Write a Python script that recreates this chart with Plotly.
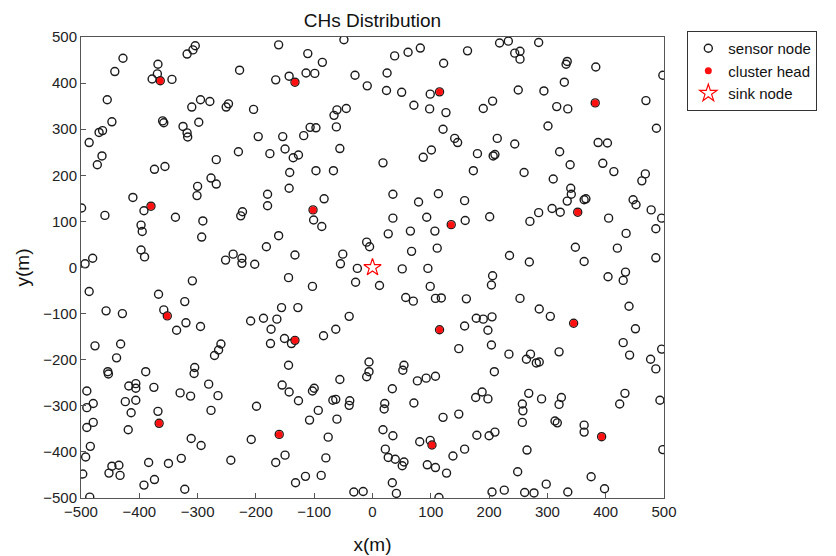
import plotly.graph_objects as go

# Sensor nodes (ordinary)
sensor_x = [-304,-308,-318,-428,-442,-368,-369,-378,-344,-455,-295,-279,-310,-360,-358,-447,-298,-325,-318,-317,-463,-469,-486,-464,-472,-374,-356,-268,-277,-268,
            -49,-161,-111,-86,-228,-143,-166,-114,-99,-30,-247,-251,-204,-61,-66,-45,-107,-97,-62,-118,-196,-154,-150,-230,-176,-136,-127,-56,-142,-97,-67,
            218,233,82,61,38,163,122,25,-9,24,50,99,71,98,126,206,190,121,141,146,214,101,87,180,207,210,18,173,
            285,244,253,253,334,332,383,498,329,250,294,469,316,335,301,487,244,387,403,321,339,395,414,260,310,468,462,
            -300,-301,-411,-392,-499,-459,-338,-291,-397,-395,-293,-397,-391,-480,-493,-309,-486,-367,-322,-457,-429,-358,-320,-295,-336,
            -143,-180,-180,-223,-226,-83,-101,-87,-161,-182,-252,-239,-224,-224,-202,-133,-51,-55,-26,-29,-144,-103,-156,-128,-209,-187,-164,-174,-40,-63,-84,-151,
            35,79,113,158,35,93,159,201,27,65,107,-10,-5,67,111,51,95,235,12,206,204,99,57,70,108,118,161,178,190,205,158,198,
            340,341,334,363,366,447,452,308,322,285,270,405,478,496,486,435,348,420,269,363,486,404,434,430,253,286,305,440,451,
            -476,-432,-439,-454,-453,-389,-260,-264,-271,-418,-406,-406,-375,-305,-306,-281,-330,-312,-265,-490,-479,-490,-424,-406,-414,-368,-277,-479,-490,-419,-484,-311,-294,-492,-328,-447,-435,-452,-433,-384,-350,-497,-392,-374,-322,-485,
            -175,-139,-144,-155,-143,-127,-103,-100,-56,-68,-63,-39,-40,-199,-93,-108,-61,-208,-76,-243,-150,-166,-80,-115,-132,-88,-32,-16,
            -6,-6,-10,148,204,234,54,52,209,77,92,108,34,188,177,198,21,20,71,148,121,18,35,179,200,210,81,99,158,138,22,27,39,54,51,94,108,127,34,41,114,205,226,
            430,320,271,264,281,286,441,477,486,496,268,290,257,258,257,324,320,313,317,363,363,433,424,493,265,498,249,298,375,261,277,335,398]
sensor_y = [481,472,463,454,425,441,420,409,408,364,364,360,348,318,314,316,315,306,292,283,297,293,271,242,223,213,219,234,194,181,
            494,483,464,445,428,415,407,422,421,417,355,348,343,342,330,345,304,303,305,286,284,284,257,251,247,238,244,258,206,210,210,
            487,491,476,467,459,470,443,422,394,384,380,376,352,344,336,361,345,300,280,271,280,255,239,247,242,245,227,210,
            488,465,469,452,447,441,435,417,402,385,383,362,349,344,307,302,268,271,270,251,223,226,208,206,192,203,188,
            176,156,152,123,129,113,109,101,92,78,66,38,23,20,8,-29,-52,-58,-74,-94,-100,-92,-120,-128,-136,
            172,159,134,121,112,149,103,89,69,45,16,29,20,9,7,27,29,8,-2,-32,-22,-41,-87,-87,-116,-110,-112,-134,-106,-134,-148,-154,
            159,142,160,145,107,109,102,110,73,79,79,55,45,35,42,-3,-2,26,-39,-18,-38,-41,-65,-73,-67,-66,-68,-110,-112,-107,-127,-136,
            172,159,144,147,149,147,136,128,120,119,100,107,125,107,84,74,44,42,12,13,21,-20,-10,-28,-67,-90,-106,-84,-133,
            -170,-166,-196,-226,-231,-226,-166,-179,-191,-257,-252,-262,-260,-217,-230,-253,-272,-279,-278,-268,-295,-304,-291,-288,-315,-312,-310,-336,-347,-352,-388,-371,-386,-411,-414,-431,-429,-446,-451,-423,-425,-448,-472,-460,-481,-498,
            -165,-165,-212,-255,-270,-289,-268,-262,-243,-288,-286,-289,-299,-301,-310,-331,-329,-373,-368,-418,-407,-423,-413,-453,-467,-451,-487,-486,
            -205,-226,-237,-176,-168,-188,-212,-223,-226,-246,-240,-236,-263,-270,-282,-285,-295,-307,-294,-318,-325,-352,-365,-364,-365,-357,-378,-375,-394,-409,-394,-412,-416,-422,-430,-428,-434,-446,-467,-490,-499,-487,-483,
            -163,-183,-188,-199,-207,-205,-190,-199,-220,-177,-273,-285,-296,-311,-336,-282,-297,-333,-337,-342,-357,-273,-296,-288,-396,-395,-443,-470,-454,-488,-489,-487,-480]

# Cluster heads
ch_x = [-364,-133,115,382,-380,-352,-102,-133,135,115,352,345,-366,-160,102,393]
ch_y = [405,402,381,357,133,-105,125,-158,93,-135,120,-121,-338,-362,-385,-367]

# Sink node
sink_x = [0]
sink_y = [0]

axis_range = [-500, 500]
tick_step = 100

FONT = "Liberation Sans, Arial, sans-serif"

fig = go.Figure()
fig.add_trace(go.Scatter(
    x=sensor_x + ch_x, y=sensor_y + ch_y, mode="markers", name="sensor node",
    marker=dict(symbol="circle-open", size=8, color="#1a1a1a", line=dict(width=1.4, color="#1a1a1a"))))
fig.add_trace(go.Scatter(
    x=ch_x, y=ch_y, mode="markers", name="cluster head",
    marker=dict(symbol="circle", size=7, color="#ff1010", line=dict(width=0))))
fig.add_trace(go.Scatter(
    x=sink_x, y=sink_y, mode="markers", name="sink node",
    marker=dict(symbol="star-open", size=13, color="#ff0000", line=dict(width=1.2, color="#ff0000"))))

axis_common = dict(showgrid=False, zeroline=False, showline=True, linecolor="#555555", linewidth=1,
                   mirror=True, ticks="inside", ticklen=5, tickcolor="#555555",
                   tick0=axis_range[0], dtick=tick_step, range=axis_range,
                   tickfont=dict(family=FONT, size=15, color="#222222"))

fig.update_layout(
    width=836, height=556,
    margin=dict(l=73, r=180, t=29, b=66, autoexpand=False),
    paper_bgcolor="white", plot_bgcolor="white",
    font=dict(family=FONT, color="#111111"),
    title=dict(text="CHs Distribution", xref="paper", x=0.5, xanchor="center", y=0.978, yanchor="middle",
               font=dict(size=19, color="#111111")),
    xaxis=dict(title=dict(text="x(m)", font=dict(size=19), standoff=18), **axis_common),
    yaxis=dict(title=dict(text="y(m)", font=dict(size=19), standoff=8), **axis_common),
    legend=dict(x=1.04, y=1.013, xanchor="left", yanchor="top", bgcolor="white",
                bordercolor="#333333", borderwidth=1, font=dict(family=FONT, size=15, color="#111111"),
                tracegroupgap=0, itemwidth=30),
    showlegend=True,
)

fig.write_html("out.html")
